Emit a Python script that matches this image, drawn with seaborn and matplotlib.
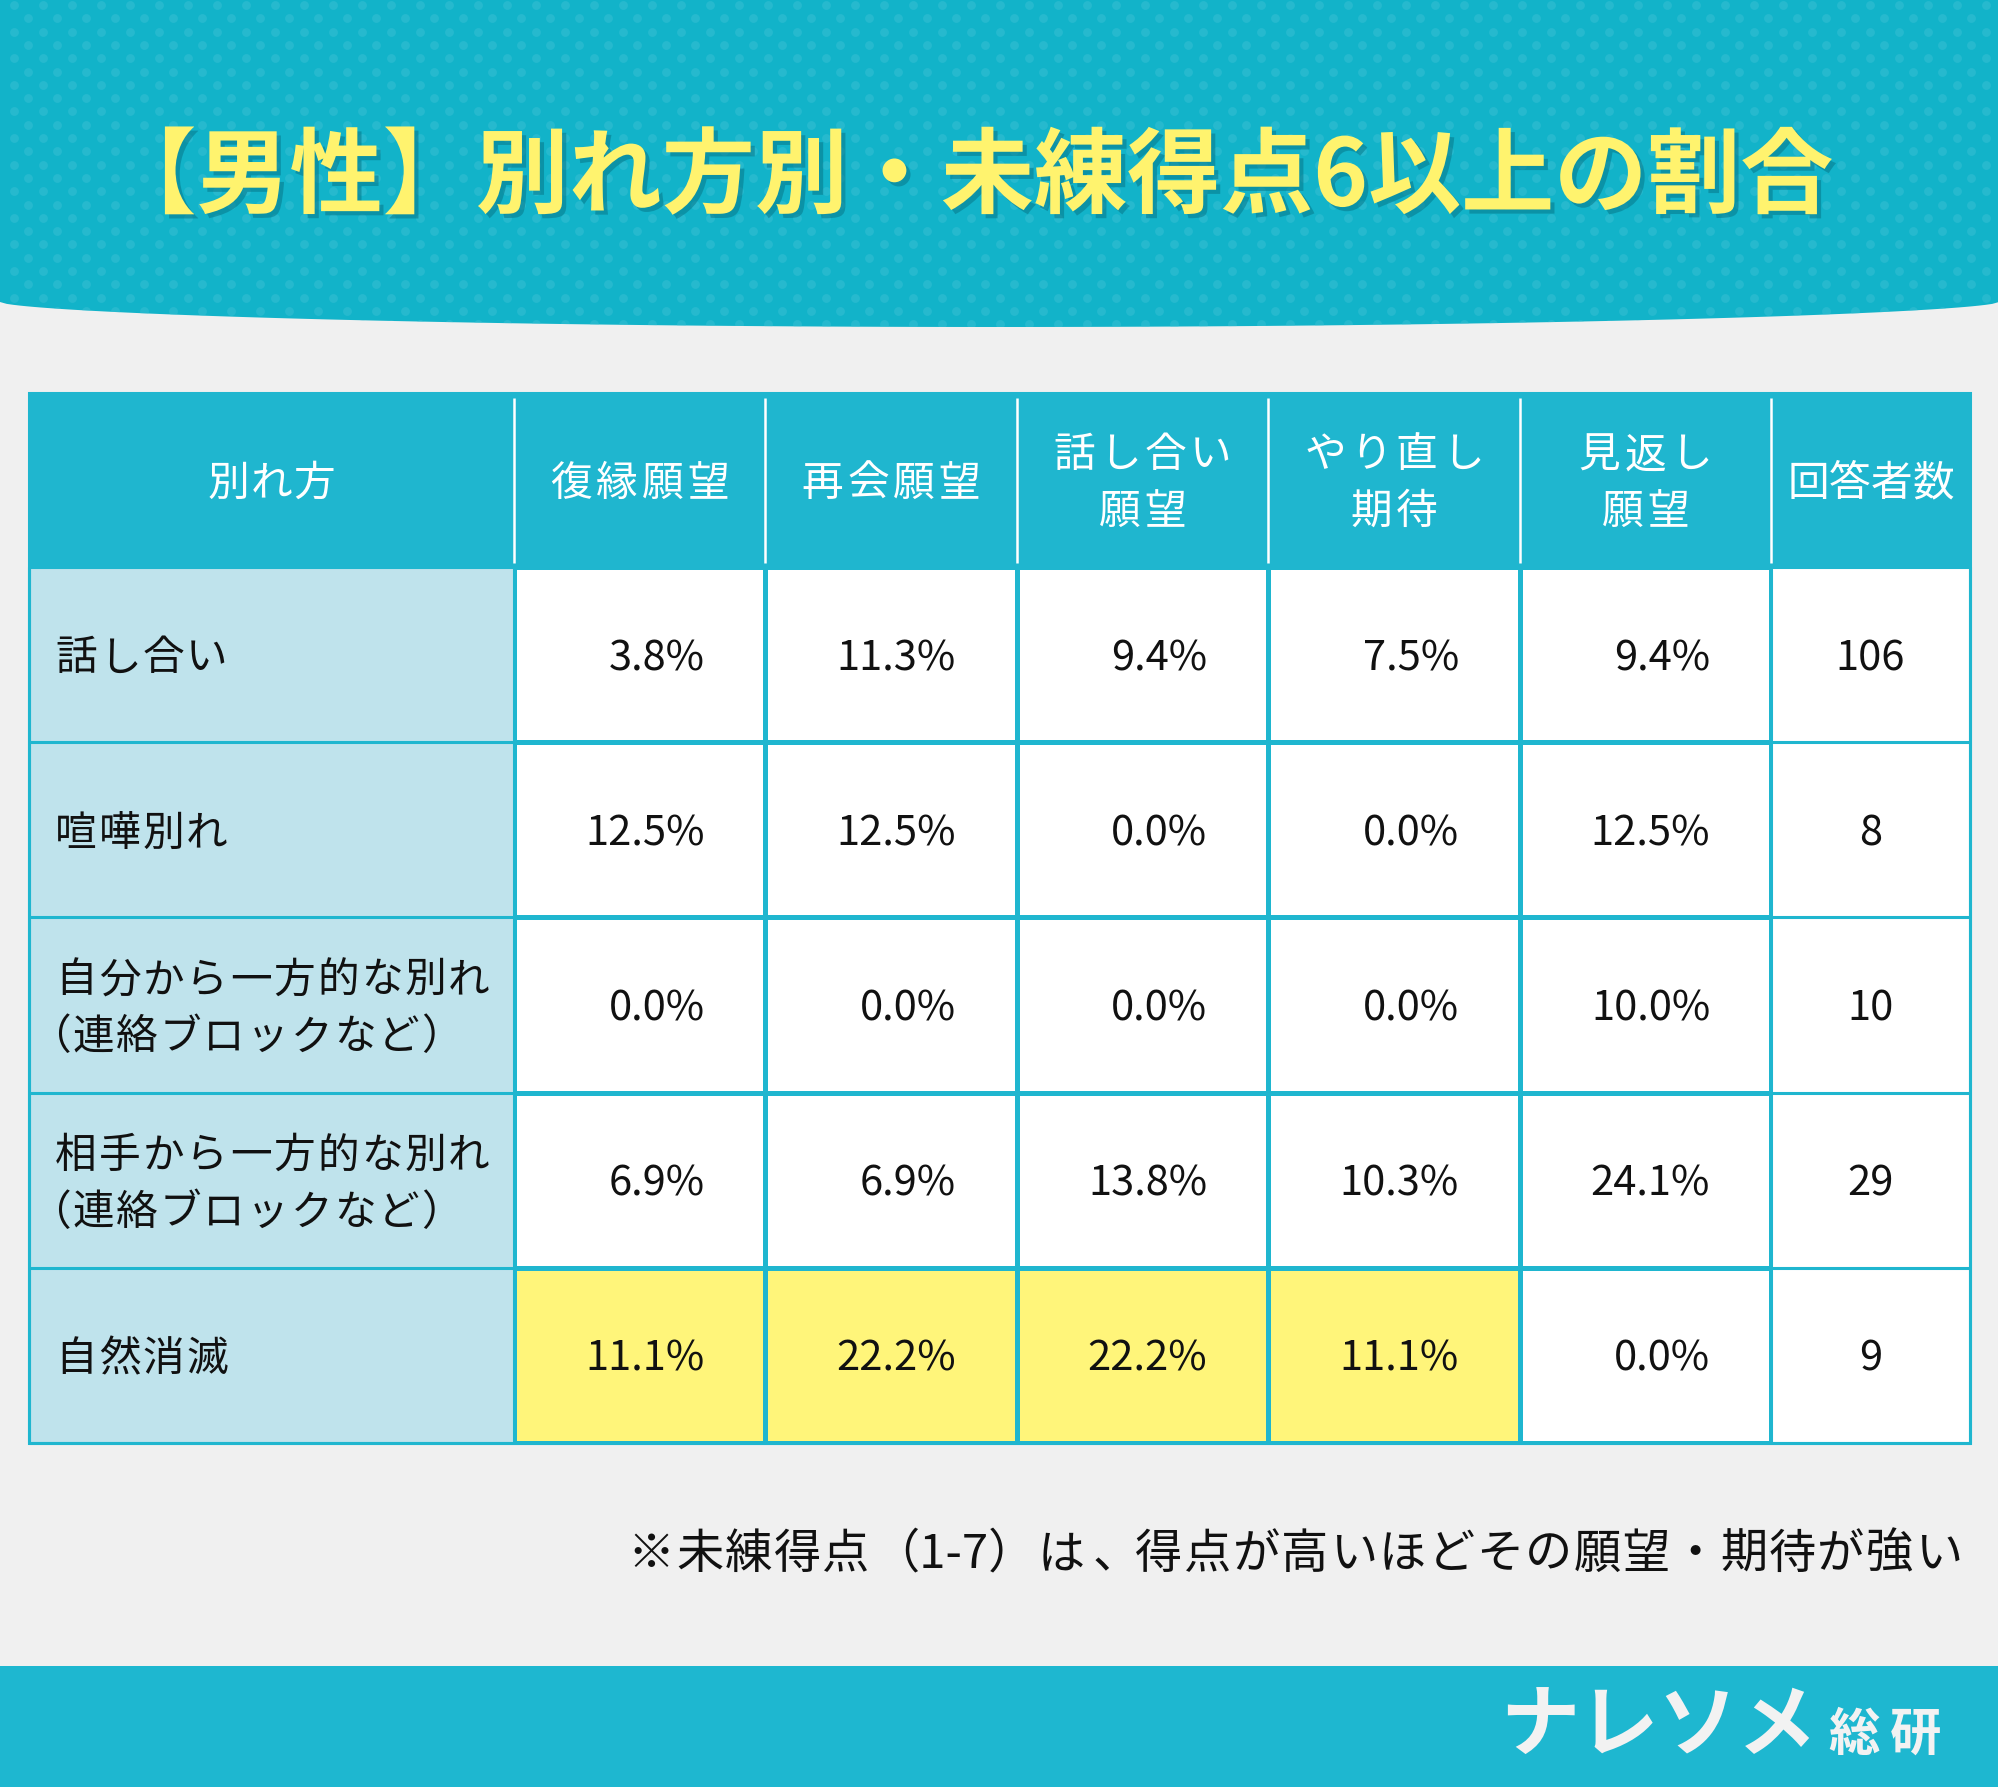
import numpy as np
import matplotlib
matplotlib.use("Agg")
import matplotlib.pyplot as plt
import matplotlib.patheffects as pe
from matplotlib.colors import ListedColormap
from matplotlib.patches import Rectangle, Polygon
import seaborn as sns

# ---- data ----
TITLE = "【男性】別れ方別・未練得点6以上の割合"
FIRST_HEADER = "別れ方"
COLUMNS = ["復縁願望", "再会願望", "話し合い\n願望", "やり直し\n期待", "見返し\n願望"]
COUNT_HEADER = "回答者数"
METHODS = ["話し合い", "喧嘩別れ",
           "自分から一方的な別れ\n（連絡ブロックなど）",
           "相手から一方的な別れ\n（連絡ブロックなど）",
           "自然消滅"]
FUKUEN = [3.8, 12.5, 0.0, 6.9, 11.1]
SAIKAI = [11.3, 12.5, 0.0, 6.9, 22.2]
HANASHIAI = [9.4, 0.0, 0.0, 13.8, 22.2]
YARINAOSHI = [7.5, 0.0, 0.0, 10.3, 11.1]
MIKAESHI = [9.4, 12.5, 10.0, 24.1, 0.0]
COUNTS = [106, 8, 10, 29, 9]
HIGHLIGHT = [[0, 0, 0, 0, 0],
             [0, 0, 0, 0, 0],
             [0, 0, 0, 0, 0],
             [0, 0, 0, 0, 0],
             [1, 1, 1, 1, 0]]
NOTE = "※未練得点（1-7）は、得点が高いほどその願望・期待が強い"
LOGO = "ナレソメ"
LOGO_SUB = "総研"

# ---- layout (pixels) ----
W, H = 1999, 1787
TL, TR = 29, 1970          # table left / right
TT, HB = 393, 567          # table top / header bottom
ROW_H = 175.2
C0, CN = 514, 1771         # start / end of the percent block
TB = HB + ROW_H * len(METHODS)
LINE_PITCH = 57
FS = 30                    # table font size (pt)

TEAL = "#1FB6CF"
BANNER = "#12B3C9"
LIGHT = "#BFE3EC"
YELLOW = "#FFF57A"
INK = "#111111"

sns.set_theme(style="white")
plt.rcParams['font.family'] = ['Noto Sans CJK JP', 'DejaVu Sans']


def is_narrow(ch):
    return ord(ch) < 0x2000


def tokens(s):
    """single wide glyphs, runs of narrow glyphs, and （ascii） groups"""
    out = []
    for ch in s:
        if is_narrow(ch) and out and is_narrow(out[-1][0]):
            out[-1] += ch
        else:
            out.append(ch)
    merged = []
    i = 0
    while i < len(out):
        if (out[i] == "（" and i + 2 < len(out) and is_narrow(out[i + 1][0])
                and out[i + 2] == "）"):
            merged.append("".join(out[i:i + 3]))
            i += 3
        else:
            merged.append(out[i])
            i += 1
    return merged


def tok_width(t, em):
    n_narrow = sum(is_narrow(c) for c in t)
    return (0.5 * n_narrow + (len(t) - n_narrow)) * em


def tracked(ax, x, yc, s, fontsize, track=0, ha="left", tight=False, **kw):
    """Draw s glyph by glyph with extra letter spacing; yc = ink centre."""
    em = fontsize * 100 / 72
    toks = tokens(s)
    ws = [tok_width(t, em) for t in toks]
    total = sum(ws) + track * (len(toks) - 1)
    if ha == "center":
        cx = x - total / 2
    elif ha == "right":
        cx = x - total
    else:
        cx = x
    base = yc + 0.38 * em
    open_x = 1.0 if tight else 0.85
    close_x = -0.02 if tight else 0.12
    for t, w in zip(toks, ws):
        if t == "（":
            ax.text(cx + open_x * em, base, t, ha="right", va="baseline",
                    fontsize=fontsize, **kw)
        elif t == "）":
            ax.text(cx + close_x * em, base, t, ha="left", va="baseline",
                    fontsize=fontsize, **kw)
        elif t == "、":
            ax.text(cx + 0.12 * em, base, t, ha="left", va="baseline",
                    fontsize=fontsize, **kw)
        else:
            ax.text(cx + w / 2, base, t, ha="center", va="baseline",
                    fontsize=fontsize, **kw)
        cx += w + track


def multiline(ax, x, yc, text, fontsize, track=0, ha="left", tight=False, **kw):
    lines = text.split("\n")
    n = len(lines)
    em = fontsize * 100 / 72
    for k, line in enumerate(lines):
        y = yc + (k - (n - 1) / 2) * LINE_PITCH
        xx = x - 0.63 * em if (ha == "left" and line.startswith("（")) else x
        tracked(ax, xx, y, line, fontsize, track, ha, tight, **kw)


fig = plt.figure(figsize=(W / 100, H / 100), dpi=100)
fig.patch.set_facecolor("#F0F0F0")

bg = fig.add_axes([0, 0, 1, 1], zorder=0)
bg.set_xlim(0, W)
bg.set_ylim(H, 0)
bg.axis("off")

# top banner with curved bottom edge
xs = np.linspace(0, W, 300)
u = (xs - W / 2) / (W / 2)
ys = 302 + 25 * np.clip(1 - u ** 2, 0, 1) ** 0.6
verts = [(0, 0), (W, 0)] + list(zip(xs[::-1], ys[::-1]))
banner = Polygon(verts, closed=True, fc=BANNER, ec="none")
bg.add_patch(banner)

# subtle dot pattern on the banner
dx, dy = 29, 13.3
pts = []
for r, yy in enumerate(np.arange(5, 335, dy)):
    off = 0 if r % 2 == 0 else dx / 2
    for xx in np.arange(14 + off, W, dx):
        pts.append((xx, yy))
pts = np.array(pts)
dots = bg.scatter(pts[:, 0], pts[:, 1], s=40, color="#3FC2D6", alpha=0.45,
                  linewidths=0)
dots.set_clip_path(banner)

bg.text(968, 178, TITLE, fontsize=67, weight="bold", color="#FFF36E",
        ha="center", va="center",
        path_effects=[pe.withSimplePatchShadow(offset=(3, -3),
                                               shadow_rgbFace="#07788A",
                                               alpha=0.55)])

# bottom band
bg.add_patch(Rectangle((0, 1666), W, H - 1666, fc="#1EB7D0", ec="none"))

# table backgrounds outside the percent block
bg.add_patch(Rectangle((TL, TT), TR - TL, HB - TT, fc=TEAL, ec="none"))
bg.add_patch(Rectangle((TL, HB), C0 - TL, TB - HB, fc=LIGHT, ec="none"))
bg.add_patch(Rectangle((CN, HB), TR - CN, TB - HB, fc="white", ec="none"))

# percent block as a heatmap
hax = fig.add_axes([C0 / W, 1 - TB / H, (CN - C0) / W, (TB - HB) / H], zorder=1)
sns.heatmap(np.array(HIGHLIGHT), cmap=ListedColormap(["#FFFFFF", YELLOW]),
            vmin=0, vmax=1, cbar=False, linewidths=2.2, linecolor=TEAL,
            xticklabels=False, yticklabels=False, ax=hax)
hax.set_axis_off()

em_px = FS * 100 / 72
values = np.column_stack([FUKUEN, SAIKAI, HANASHIAI, YARINAOSHI, MIKAESHI])
for i in range(values.shape[0]):
    for j in range(values.shape[1]):
        hax.text(j + 1 - 0.242, i + 0.5 + 0.37 * em_px / ROW_H,
                 "%.1f%%" % values[i, j],
                 ha="right", va="baseline", fontsize=FS, color=INK)

# overlay: grid lines and texts
ov = fig.add_axes([0, 0, 1, 1], zorder=2)
ov.set_xlim(0, W)
ov.set_ylim(H, 0)
ov.patch.set_alpha(0)
ov.axis("off")

col_w = (CN - C0) / len(COLUMNS)
bounds = [C0 + k * col_w for k in range(len(COLUMNS) + 1)]
for k in range(len(METHODS) + 1):
    y = HB + k * ROW_H
    ov.plot([TL, TR], [y, y], color=TEAL, lw=2.2, solid_capstyle="butt")
for x in [TL] + bounds + [TR]:
    ov.plot([x, x], [HB, TB], color=TEAL, lw=2.2, solid_capstyle="butt")
for x in bounds:
    ov.plot([x, x], [TT + 5, HB - 4], color="white", lw=1.8, solid_capstyle="butt")
ov.add_patch(Rectangle((TL, TT), TR - TL, TB - TT, fc="none", ec=TEAL, lw=2.2))

hc = (TT + HB) / 2
tracked(ov, (TL + C0) / 2, hc, FIRST_HEADER, FS, 1, "center", color="white")
for k, name in enumerate(COLUMNS):
    multiline(ov, (bounds[k] + bounds[k + 1]) / 2, hc, name, FS, 4, "center",
              color="white")
tracked(ov, (CN + TR) / 2, hc, COUNT_HEADER, FS, 0, "center", color="white")

for i, m in enumerate(METHODS):
    yc = HB + (i + 0.5) * ROW_H
    multiline(ov, 55, yc, m, FS, 2, "left", tight=True, color=INK)
    ov.text((CN + TR) / 2, yc + 0.37 * em_px, str(COUNTS[i]), ha="center",
            va="baseline", fontsize=FS, color=INK)

tracked(ov, 1962, 1550, NOTE, 34, 1.5, "right", color=INK)

ov.text(1500, 1727, LOGO, ha="left", va="center", fontsize=57, weight="bold",
        color="#F2F2F2")
tracked(ov, 1828, 1730, LOGO_SUB, 37, 10, "left", weight="bold",
        color="#F2F2F2")

fig.savefig("out.png", dpi=100, facecolor=fig.get_facecolor())
